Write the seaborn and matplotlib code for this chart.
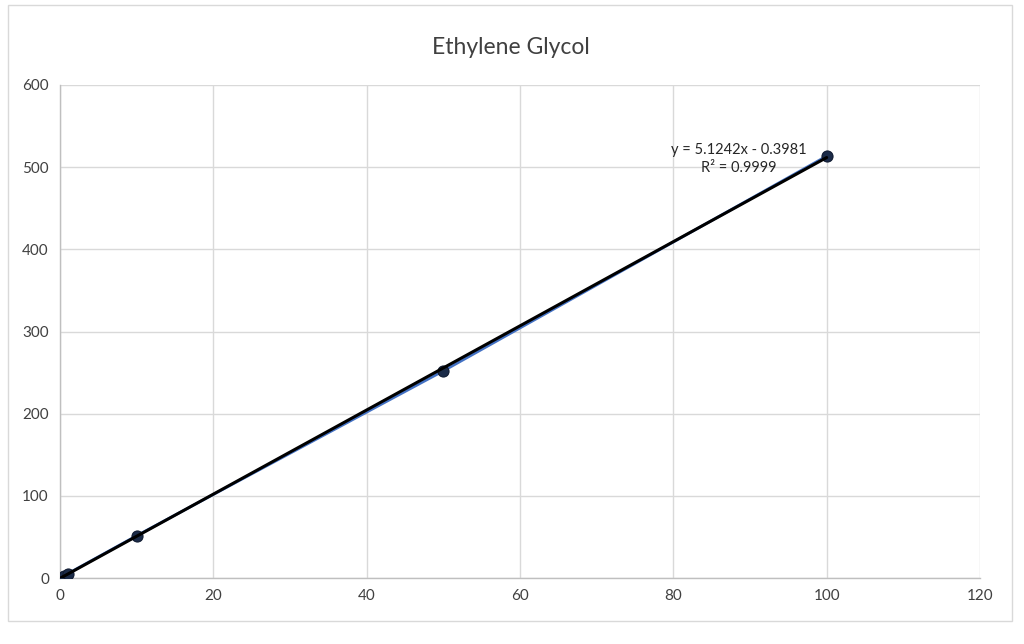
import numpy as np
import pandas as pd
import matplotlib
matplotlib.use("Agg")
import matplotlib.pyplot as plt
import seaborn as sns

# data
conc = [0.1, 0.5, 1, 10, 50, 100]
area = [0.5, 2.5, 5.2, 51.5, 252, 513.5]
x_ticks = [0, 20, 40, 60, 80, 100, 120]
y_ticks = [0, 100, 200, 300, 400, 500, 600]

df = pd.DataFrame({"conc": conc, "area": area})

sns.set_style("white")
plt.rcParams["font.family"] = ["Lato", "DejaVu Sans"]

fig = plt.figure(figsize=(10.24, 6.44), dpi=100)
ax = fig.add_axes([60 / 1024, 1 - 578 / 644, 920 / 1024, 493 / 644])

# outer chart border
fig.patches.append(plt.Rectangle((8 / 1024, 1 - 621 / 644), 1004 / 1024, 616 / 644,
                                 transform=fig.transFigure, fill=False,
                                 edgecolor="#d9d9d9", linewidth=1))

# data series
sns.lineplot(data=df, x="conc", y="area", ax=ax, color="#4472c4", linewidth=2,
             marker="o", markersize=8, markerfacecolor="#1b2b48",
             markeredgecolor="#0f1a30", zorder=3)

# linear trendline
slope, intercept = np.polyfit(conc, area, 1)
xs = np.array([min(conc), max(conc)])
ax.plot(xs, slope * xs + intercept, color="black", linewidth=2.2, zorder=4)

ax.text(88.5, 510, "y = 5.1242x - 0.3981\nR² = 0.9999", ha="center", va="center",
        fontsize=10.5, color="#262626", linespacing=1.35)

ax.set_xlim(0, 120)
ax.set_ylim(0, 600)
ax.set_xticks(x_ticks)
ax.set_yticks(y_ticks)
ax.grid(True, color="#d9d9d9", linewidth=1)
ax.set_axisbelow(True)
for s in ["top", "right"]:
    ax.spines[s].set_visible(False)
for s in ["left", "bottom"]:
    ax.spines[s].set_color("#bfbfbf")
    ax.spines[s].set_linewidth(1)
ax.tick_params(axis="both", length=0, labelsize=11, colors="#404040", pad=8)
ax.set_xlabel("")
ax.set_ylabel("")

fig.text(511 / 1024, 1 - 47 / 644, "Ethylene Glycol", ha="center", va="center",
         fontsize=16.5, color="#404040")

fig.savefig("out.png", dpi=100)
